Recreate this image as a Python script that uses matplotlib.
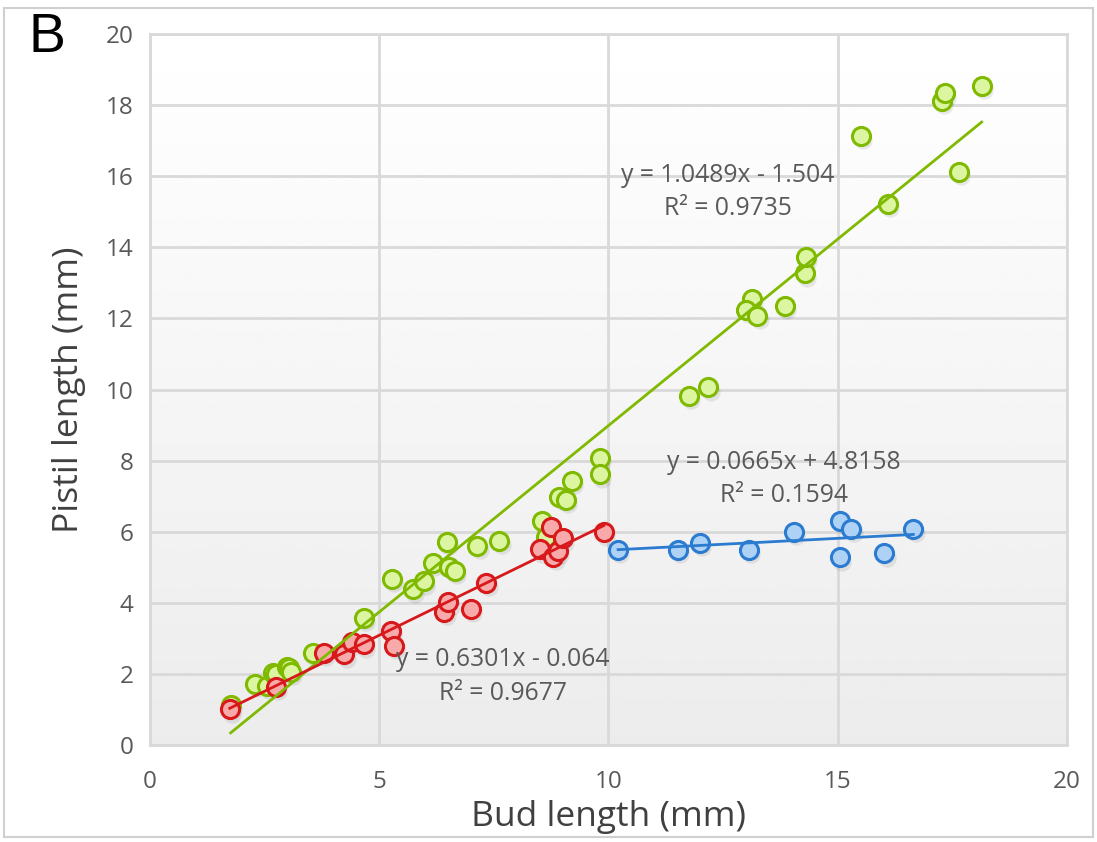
import numpy as np
import matplotlib.pyplot as plt
from matplotlib.patches import Rectangle

# data
green_x = [1.76, 2.29, 2.55, 2.68, 2.74, 2.98, 3.03, 3.07, 3.56, 4.67, 5.27, 5.73, 5.98, 6.17,
           6.47, 6.53, 6.65, 7.14, 7.62, 8.54, 8.63, 8.93, 9.07, 9.20, 9.81, 9.81, 11.76, 12.18,
           13.12, 13.01, 13.25, 13.85, 14.29, 14.31, 16.09, 15.51, 17.27, 17.34, 18.14, 17.64]
green_y = [1.13, 1.71, 1.67, 2.02, 2.00, 2.20, 2.17, 2.06, 2.60, 3.58, 4.67, 4.38, 4.60, 5.13,
           5.72, 5.02, 4.89, 5.60, 5.74, 6.31, 5.86, 6.97, 6.89, 7.43, 8.08, 7.61, 9.82, 10.06,
           12.55, 12.25, 12.08, 12.35, 13.27, 13.74, 15.22, 17.13, 18.12, 18.33, 18.55, 16.13]
red_x = [1.74, 2.75, 3.80, 4.24, 4.41, 4.67, 5.26, 5.32, 6.42, 6.51, 7.00, 7.34,
         8.51, 8.74, 8.80, 8.89, 9.01, 9.90]
red_y = [1.00, 1.64, 2.60, 2.55, 2.91, 2.83, 3.21, 2.79, 3.74, 4.01, 3.82, 4.57,
         5.50, 6.12, 5.30, 5.47, 5.81, 5.98]
blue_x = [10.21, 11.51, 12.00, 13.06, 14.05, 15.05, 15.30, 15.05, 16.02, 16.65]
blue_y = [5.49, 5.49, 5.69, 5.49, 6.00, 6.30, 6.09, 5.28, 5.39, 6.09]

# trend line coefficients (slope, intercept) and labels
green_fit = (1.0489, -1.504)
red_fit = (0.6301, -0.064)
blue_fit = (0.0665, 4.8158)
green_eq = "y = 1.0489x - 1.504\nR² = 0.9735"
red_eq = "y = 0.6301x - 0.064\nR² = 0.9677"
blue_eq = "y = 0.0665x + 4.8158\nR² = 0.1594"

plt.rcParams['font.family'] = ['Open Sans', 'DejaVu Sans']

fig = plt.figure(figsize=(10.97, 8.42), dpi=100)
fig.patches.append(Rectangle((0.004, 0.006), 0.992, 0.985, transform=fig.transFigure,
                             fill=False, edgecolor='#d0d0d0', linewidth=1.5))
ax = fig.add_axes([0.1367, 0.1152, 0.8359, 0.8444])

# gradient background: white on top, light gray at the bottom
grad = np.linspace(1.0, 0.925, 256).reshape(-1, 1)
ax.imshow(grad, cmap='gray', vmin=0, vmax=1, extent=[0, 20, 0, 20], aspect='auto', zorder=0)
ax.set_xlim(0, 20)
ax.set_ylim(0, 20)

ax.set_xticks(np.arange(0, 21, 5))
ax.set_yticks(np.arange(0, 21, 2))
ax.grid(True, color='#d9d9d9', linewidth=2, zorder=1)
ax.tick_params(axis='y', length=0, labelsize=17.5, labelcolor='#595959', pad=12)
ax.tick_params(axis='x', length=0, labelsize=17.5, labelcolor='#595959', pad=18)
for s in ax.spines.values():
    s.set_color('#d9d9d9')
    s.set_linewidth(2)

ax.set_xlabel('Bud length (mm)', fontsize=25.5, color='#404040', labelpad=4)
ax.set_ylabel('Pistil length (mm)', fontsize=25.5, color='#404040', labelpad=14)

series = [
    (green_x, green_y, green_fit, '#7fba00', '#dcf5a0'),
    (red_x, red_y, red_fit, '#d7191c', '#f8a9a9'),
    (blue_x, blue_y, blue_fit, '#2b7bd0', '#aed2f5'),
]
for xs, ys, fit, edge, face in series:
    xs = np.array(xs)
    ys = np.array(ys)
    # soft shadow
    ax.scatter(xs + 0.05, ys - 0.12, s=175, color='#000000', alpha=0.08, linewidths=0, zorder=2)
    ax.scatter(xs, ys, s=170, facecolor=face, edgecolor=edge, linewidths=2.2, zorder=3)
    lx = np.array([xs.min(), xs.max()])
    ax.plot(lx, fit[0] * lx + fit[1], color=edge, linewidth=2, zorder=4)

ax.text(12.6, 15.55, green_eq, ha='center', va='center', fontsize=17.8, color='#595959',
        linespacing=1.45, zorder=5)
ax.text(13.82, 7.48, blue_eq, ha='center', va='center', fontsize=17.8, color='#595959',
        linespacing=1.45, zorder=5)
ax.text(7.7, 1.92, red_eq, ha='center', va='center', fontsize=17.8, color='#595959',
        linespacing=1.45, zorder=5)

fig.text(0.043, 0.955, 'B', fontsize=40, color='black', ha='center', va='center',
         family='Liberation Sans')

fig.savefig('out.png', dpi=100)
